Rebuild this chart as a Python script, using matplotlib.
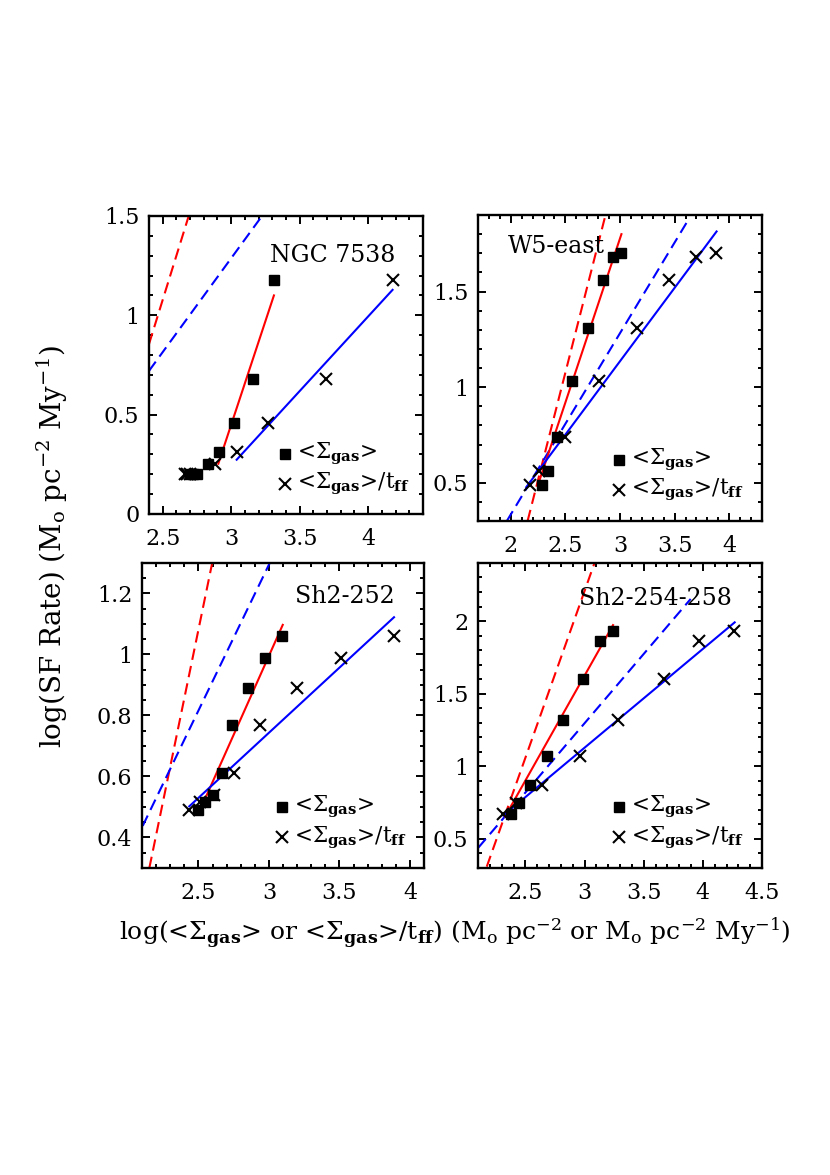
import numpy as np
import matplotlib
matplotlib.use("Agg")
import matplotlib.pyplot as plt
from matplotlib.ticker import MultipleLocator

plt.rcParams['font.family'] = 'DejaVu Serif'
plt.rcParams['mathtext.fontset'] = 'dejavuserif'

# --- data ---
names = ["NGC 7538", "W5-east", "Sh2-252", "Sh2-254-258"]

# log SFR for each region
ngc_sfr = [0.20, 0.20, 0.20, 0.25, 0.31, 0.46, 0.68, 1.18]
w5_sfr = [0.49, 0.56, 0.74, 1.03, 1.31, 1.56, 1.68, 1.70]
sh252_sfr = [0.49, 0.515, 0.54, 0.61, 0.77, 0.89, 0.99, 1.06]
sh254_sfr = [0.675, 0.75, 0.87, 1.07, 1.32, 1.60, 1.86, 1.93]

# log <Sigma_gas>  (squares)
ngc_sig = [2.70, 2.72, 2.75, 2.83, 2.91, 3.02, 3.16, 3.31]
w5_sig = [2.29, 2.34, 2.42, 2.56, 2.71, 2.84, 2.94, 3.01]
sh252_sig = [2.50, 2.55, 2.60, 2.67, 2.74, 2.85, 2.97, 3.09]
sh254_sig = [2.38, 2.45, 2.54, 2.68, 2.82, 2.99, 3.13, 3.24]

# log <Sigma_gas>/t_ff  (crosses)
ngc_sigt = [2.66, 2.68, 2.70, 2.88, 3.04, 3.27, 3.69, 4.18]
w5_sigt = [2.18, 2.26, 2.50, 2.81, 3.16, 3.45, 3.70, 3.88]
sh252_sigt = [2.43, 2.51, 2.61, 2.75, 2.94, 3.20, 3.51, 3.89]
sh254_sigt = [2.31, 2.42, 2.64, 2.96, 3.28, 3.67, 3.97, 4.26]

# fitted lines (x0, x1), (y0, y1)
red_fit = [((2.906, 3.312), (0.253, 1.10)),
           ((2.249, 3.013), (0.489, 1.80)),
           ((2.502, 3.098), (0.48, 1.097)),
           ((2.329, 3.241), (0.654, 1.972))]
blue_fit = [((3.04, 4.178), (0.273, 1.128)),
            ((2.142, 3.884), (0.477, 1.814)),
            ((2.435, 3.887), (0.502, 1.122)),
            ((2.314, 4.269), (0.661, 1.991))]
# reference relations (dashed)
red_ref = [((2.40, 2.69), (0.855, 1.50)),
           ((2.154, 2.86), (0.30, 1.884)),
           ((2.152, 2.599), (0.30, 1.303)),
           ((2.174, 3.092), (0.309, 2.417))]
blue_ref = [((2.40, 3.225), (0.72, 1.50)),
            ((1.964, 3.62), (0.30, 1.87)),
            ((2.105, 3.008), (0.438, 1.302)),
            ((2.103, 3.897), (0.44, 2.152))]

xlims = [(2.4, 4.4), (1.7, 4.3), (2.1, 4.1), (2.1, 4.5)]
ylims = [(0, 1.5), (0.3, 1.9), (0.3, 1.3), (0.3, 2.4)]
ymajor = [0.5, 0.5, 0.2, 0.5]
yminor = [0.1, 0.1, 0.05, 0.1]

sfr = [ngc_sfr, w5_sfr, sh252_sfr, sh254_sfr]
sig = [ngc_sig, w5_sig, sh252_sig, sh254_sig]
sigt = [ngc_sigt, w5_sigt, sh252_sigt, sh254_sigt]

# axes boxes in figure fraction
boxes = [[0.1795, 0.5626, 0.3301, 0.2536],
         [0.5759, 0.5566, 0.3422, 0.2604],
         [0.1711, 0.2613, 0.3398, 0.2596],
         [0.5759, 0.2613, 0.3422, 0.2596]]
name_pos = [(0.898, 0.869, 'right'), (0.105, 0.896, 'left'),
            (0.897, 0.889, 'right'), (0.893, 0.884, 'right')]

fig = plt.figure(figsize=(8.3, 11.75), dpi=100)
lab1 = r'<$\Sigma_{\bf gas}$>'
lab2 = r'<$\Sigma_{\bf gas}$>/t$_{\bf ff}$'

for i in range(4):
    ax = fig.add_axes(boxes[i])
    (x0, x1), (y0, y1) = red_ref[i]
    ax.plot([x0, x1], [y0, y1], color='red', lw=1.5, dashes=(5.5, 3))
    (x0, x1), (y0, y1) = blue_ref[i]
    ax.plot([x0, x1], [y0, y1], color='blue', lw=1.5, dashes=(5.5, 3))
    (x0, x1), (y0, y1) = red_fit[i]
    ax.plot([x0, x1], [y0, y1], color='red', lw=1.5)
    (x0, x1), (y0, y1) = blue_fit[i]
    ax.plot([x0, x1], [y0, y1], color='blue', lw=1.5)
    ax.plot(sig[i], sfr[i], 's', color='black', ms=7, ls='none')
    ax.plot(sigt[i], sfr[i], 'x', color='black', ms=8, mew=1.5, ls='none')

    ax.set_xlim(xlims[i])
    ax.set_ylim(ylims[i])
    ax.xaxis.set_major_locator(MultipleLocator(0.5))
    ax.xaxis.set_minor_locator(MultipleLocator(0.1))
    ax.yaxis.set_major_locator(MultipleLocator(ymajor[i]))
    ax.yaxis.set_minor_locator(MultipleLocator(yminor[i]))
    ax.xaxis.set_major_formatter(plt.FuncFormatter(lambda v, p: ('%g' % round(v, 2))))
    ax.yaxis.set_major_formatter(plt.FuncFormatter(lambda v, p: ('%g' % round(v, 2))))
    ax.tick_params(which='both', direction='in', top=True, right=True, width=1.4, labelsize=16, pad=7)
    ax.tick_params(axis='x', which='major', pad=10)
    ax.tick_params(which='major', length=6)
    ax.tick_params(which='minor', length=3)
    for s in ax.spines.values():
        s.set_linewidth(1.7)

    tx, ty, ha = name_pos[i]
    ax.text(tx, ty, names[i], transform=ax.transAxes, ha=ha, va='center', fontsize=17)

    # legend drawn by hand
    ax.plot([0.497], [0.20], 's', color='black', ms=7, transform=ax.transAxes)
    ax.plot([0.497], [0.10], 'x', color='black', ms=8, mew=1.5, transform=ax.transAxes)
    ax.text(0.54, 0.20, lab1, transform=ax.transAxes, va='center', fontsize=15.5)
    ax.text(0.54, 0.10, lab2, transform=ax.transAxes, va='center', fontsize=15.5)

fig.text(0.063, 0.535, r'log(SF Rate) (M$_{\rm o}$ pc$^{-2}$ My$^{-1}$)', rotation=90,
         ha='center', va='center', fontsize=20)
fig.text(0.548, 0.206, r'log(<$\Sigma_{\bf gas}$> or <$\Sigma_{\bf gas}$>/t$_{\bf ff}$) (M$_{\rm o}$ pc$^{-2}$ or M$_{\rm o}$ pc$^{-2}$ My$^{-1}$)',
         ha='center', va='center', fontsize=18)

plt.savefig("out.png", dpi=100)
